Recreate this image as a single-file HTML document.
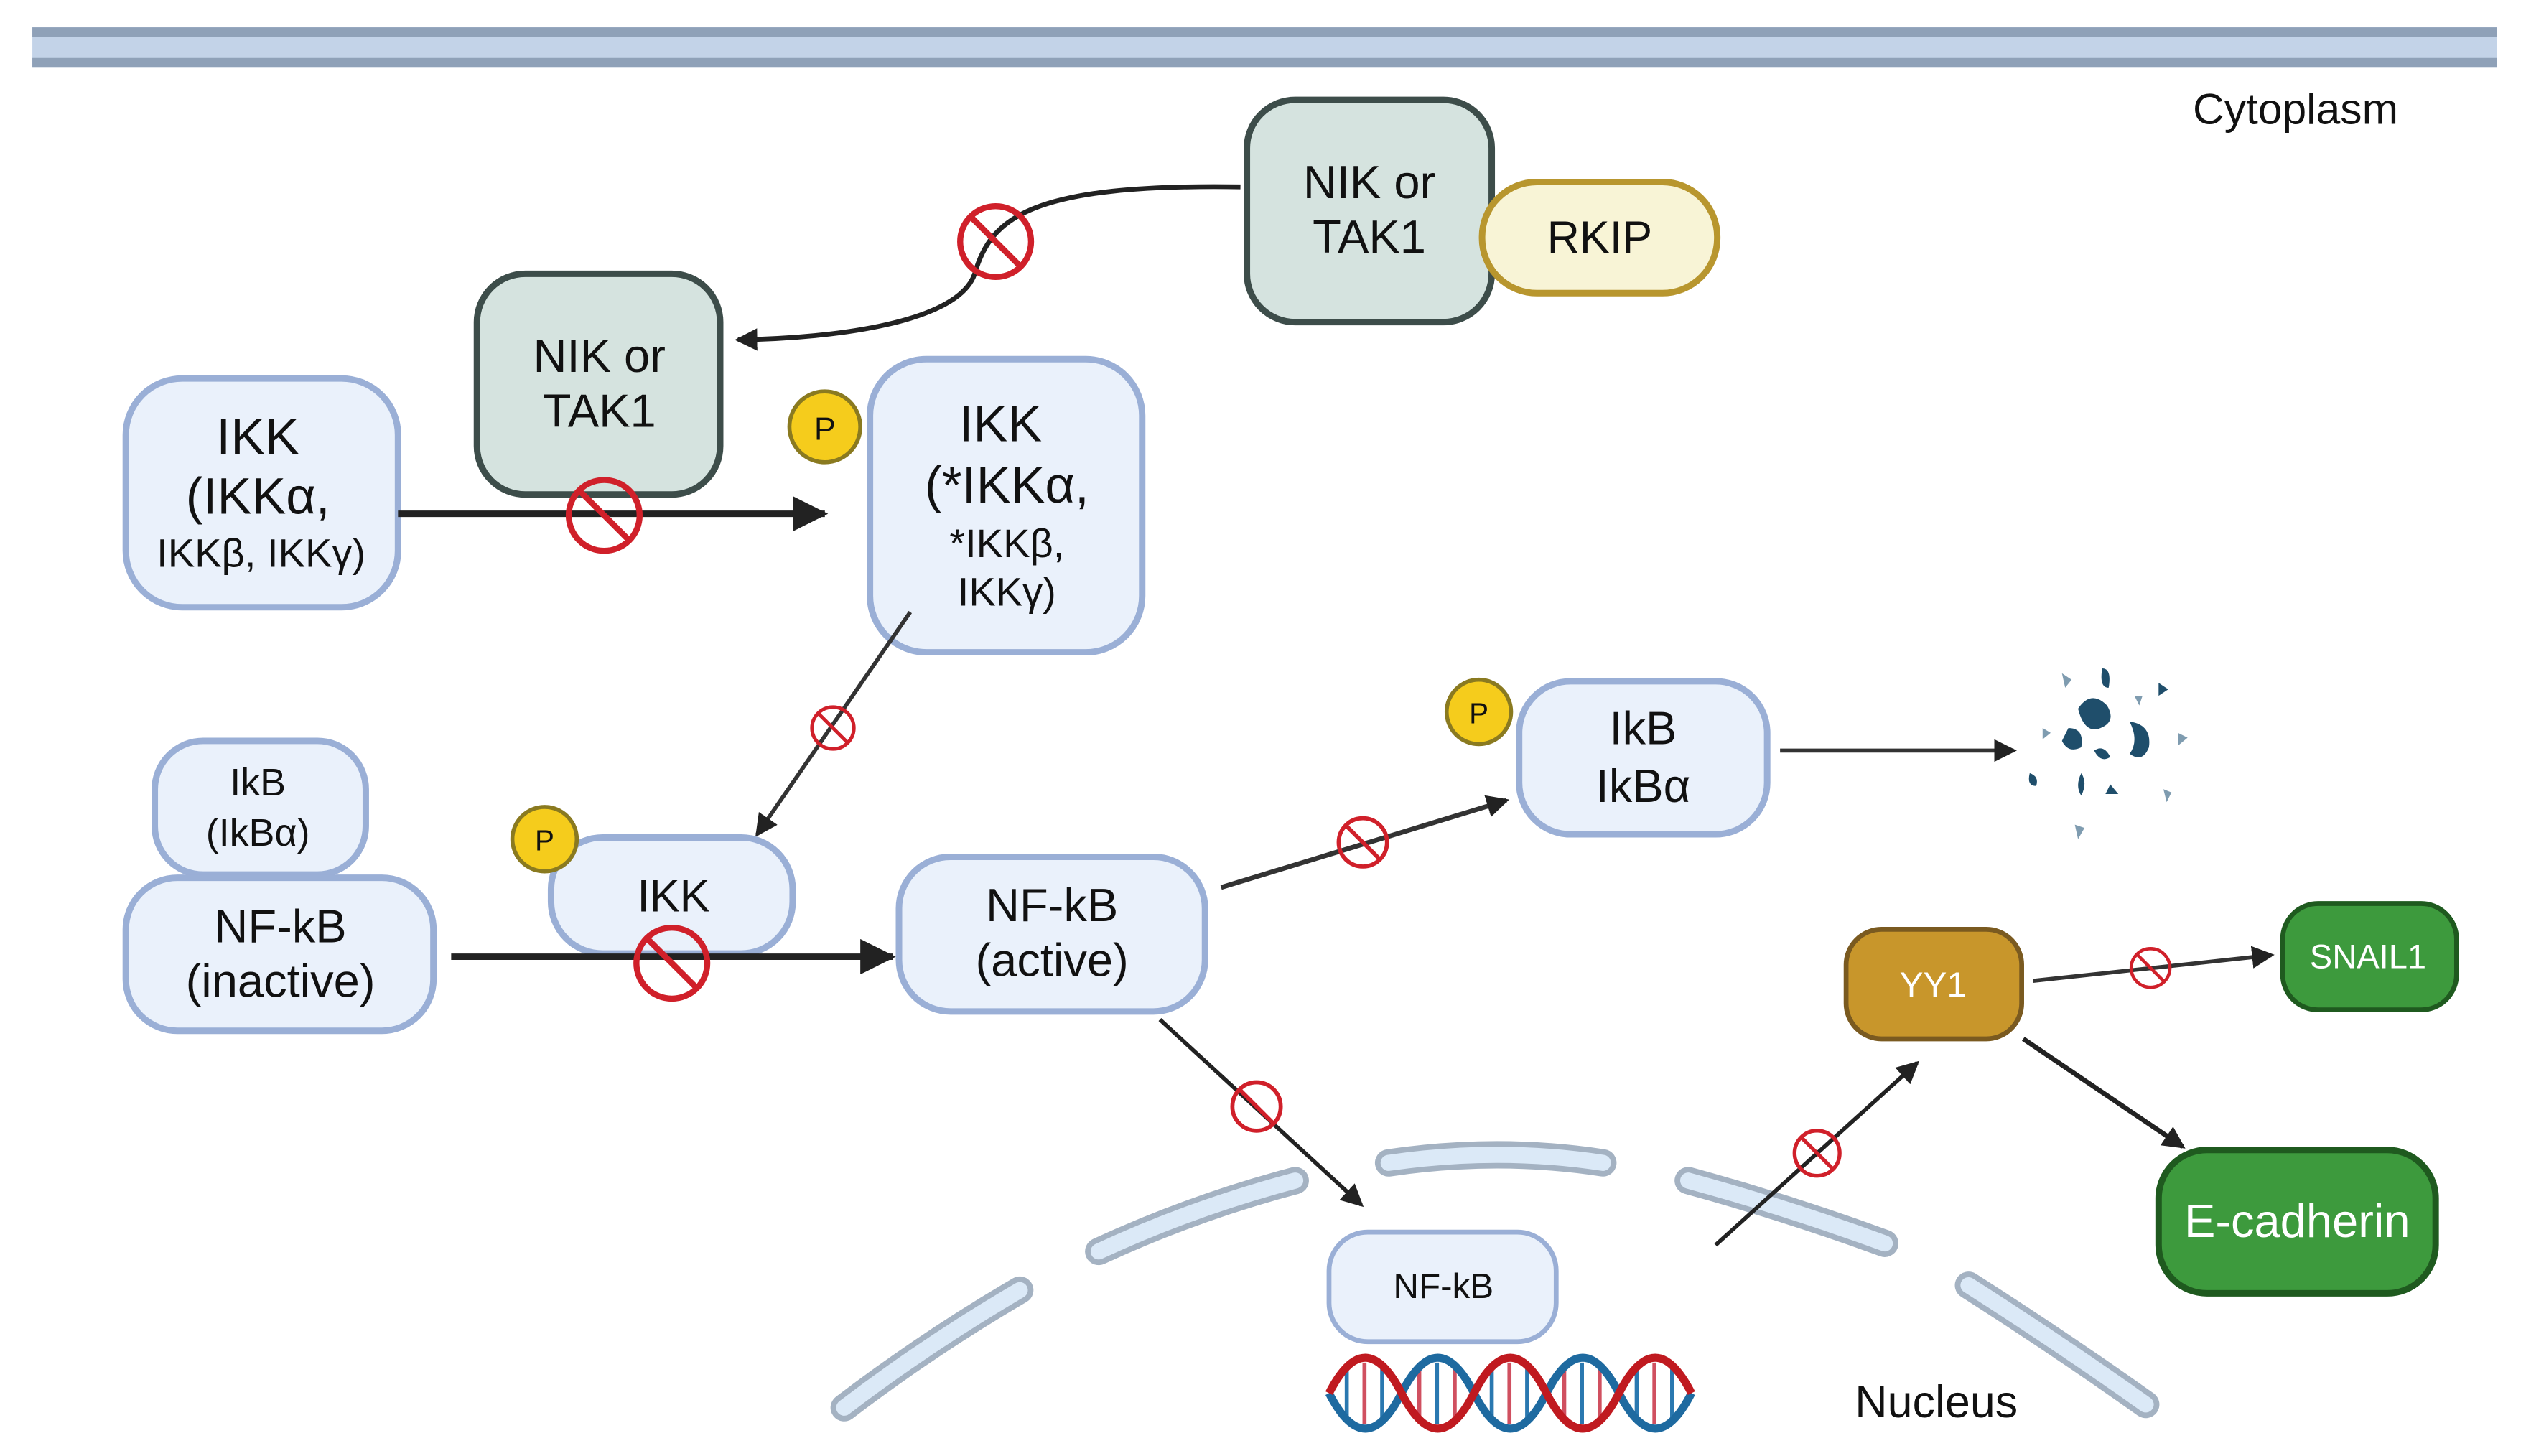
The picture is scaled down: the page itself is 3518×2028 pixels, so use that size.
<!DOCTYPE html>
<html><head><meta charset="utf-8"><style>
html,body{margin:0;padding:0;background:#fff;}
svg{display:block;}
text{font-family:"Liberation Sans Narrow","Liberation Sans",sans-serif;fill:#111;text-anchor:middle;}
</style></head><body>
<svg width="3518" height="2028" viewBox="0 0 1568 904" xmlns="http://www.w3.org/2000/svg">
<defs>
<marker id="ahb" markerWidth="22" markerHeight="22" refX="20" refY="11" orient="auto" markerUnits="userSpaceOnUse" viewBox="0 0 22 22"><path d="M0,0 L22,11 L0,22 z" fill="#222"/></marker>
<marker id="ahs" markerWidth="14" markerHeight="14" refX="12" refY="7" orient="auto" markerUnits="userSpaceOnUse" viewBox="0 0 14 14"><path d="M0,0 L14,7 L0,14 z" fill="#222"/></marker>
<g id="inh"><circle cx="0" cy="0" r="1" fill="none" stroke="#d0202a" stroke-width="0.17"/><line x1="-0.7" y1="-0.7" x2="0.7" y2="0.7" stroke="#d0202a" stroke-width="0.17"/></g>
</defs>
<rect x="20" y="17" width="1530" height="25" fill="#c3d3e8"/>
<rect x="20" y="17" width="1530" height="6" fill="#8fa1b8"/>
<rect x="20" y="36" width="1530" height="6" fill="#8fa1b8"/>
<text x="1425" y="77" font-size="27" style="font-family:'Liberation Sans',sans-serif">Cytoplasm</text>

<path d="M770,116 C640,114 615,135 605,170 C595,200 520,210 458,211" fill="none" stroke="#222" stroke-width="3" marker-end="url(#ahs)"/>
<use href="#inh" transform="translate(618,150) scale(22)"/>

<rect x="774" y="62" width="152" height="138" rx="30" fill="#d5e3df" stroke="#3d4d4a" stroke-width="4"/>
<text x="850" y="123" font-size="29">NIK or</text>
<text x="850" y="157" font-size="29">TAK1</text>
<rect x="920" y="113" width="146" height="69" rx="34" fill="#f8f4d6" stroke="#b8962e" stroke-width="4"/>
<text x="993" y="157" font-size="28">RKIP</text>

<rect x="296" y="170" width="151" height="137" rx="30" fill="#d5e3df" stroke="#3d4d4a" stroke-width="4"/>
<text x="372" y="231" font-size="29">NIK or</text>
<text x="372" y="265" font-size="29">TAK1</text>

<rect x="78" y="235" width="169" height="142" rx="35" fill="#eaf1fb" stroke="#9aafd6" stroke-width="4"/>
<text x="160" y="282" font-size="32">IKK</text>
<text x="160" y="319" font-size="32">(IKKα,</text>
<text x="162" y="352" font-size="25">IKKβ, IKKγ)</text>

<line x1="247" y1="319" x2="512" y2="319" stroke="#222" stroke-width="4" marker-end="url(#ahb)"/>
<use href="#inh" transform="translate(375,320) scale(22)"/>

<circle cx="512" cy="265" r="22" fill="#f5cc1c" stroke="#8a7a20" stroke-width="2.5"/>
<text x="512" y="273" font-size="20">P</text>
<rect x="540" y="223" width="169" height="182" rx="35" fill="#eaf1fb" stroke="#9aafd6" stroke-width="4"/>
<text x="621" y="274" font-size="32">IKK</text>
<text x="625" y="312" font-size="32">(*IKKα,</text>
<text x="625" y="346" font-size="25">*IKKβ,</text>
<text x="625" y="376" font-size="25">IKKγ)</text>

<line x1="565" y1="380" x2="470" y2="518" stroke="#333" stroke-width="2.5" marker-end="url(#ahs)"/>
<use href="#inh" transform="translate(517,452) scale(13)"/>

<rect x="96" y="460" width="131" height="83" rx="30" fill="#eaf1fb" stroke="#9aafd6" stroke-width="4"/>
<text x="160" y="494" font-size="24">IkB</text>
<text x="160" y="525" font-size="24">(IkBα)</text>
<rect x="78" y="545" width="191" height="95" rx="32" fill="#eaf1fb" stroke="#9aafd6" stroke-width="4"/>
<text x="174" y="585" font-size="29">NF-kB</text>
<text x="174" y="619" font-size="29">(inactive)</text>

<rect x="342" y="520" width="150" height="72" rx="32" fill="#eaf1fb" stroke="#9aafd6" stroke-width="4"/>
<text x="418" y="566" font-size="28">IKK</text>
<circle cx="338" cy="521" r="20" fill="#f5cc1c" stroke="#8a7a20" stroke-width="2.5"/>
<text x="338" y="528" font-size="18">P</text>

<line x1="280" y1="594" x2="554" y2="594" stroke="#222" stroke-width="4" marker-end="url(#ahb)"/>
<use href="#inh" transform="translate(417,598) scale(22)"/>

<rect x="558" y="532" width="190" height="96" rx="32" fill="#eaf1fb" stroke="#9aafd6" stroke-width="4"/>
<text x="653" y="572" font-size="29">NF-kB</text>
<text x="653" y="606" font-size="29">(active)</text>

<line x1="758" y1="551" x2="935" y2="497" stroke="#333" stroke-width="3" marker-end="url(#ahs)"/>
<use href="#inh" transform="translate(846,523) scale(15)"/>

<circle cx="918" cy="442" r="20" fill="#f5cc1c" stroke="#8a7a20" stroke-width="2.5"/>
<text x="918" y="449" font-size="18">P</text>
<rect x="943" y="423" width="154" height="95" rx="32" fill="#eaf1fb" stroke="#9aafd6" stroke-width="4"/>
<text x="1020" y="462" font-size="29">IkB</text>
<text x="1020" y="498" font-size="29">IkBα</text>
<line x1="1105" y1="466" x2="1250" y2="466" stroke="#333" stroke-width="2.5" marker-end="url(#ahs)"/>

<g fill="#1f4e6b">
<path d="M1290,440 q8,-12 18,-2 q6,10 -4,14 q-10,4 -14,-12z"/>
<path d="M1322,448 q14,2 12,16 q-4,10 -12,4 q6,-8 0,-20z"/>
<path d="M1284,452 q10,0 8,12 q-8,4 -12,-4z"/>
<path d="M1305,415 q6,0 4,12 q-6,0 -4,-12z"/>
<path d="M1340,424 l6,4 l-6,4z"/>
<path d="M1300,466 q6,-4 10,4 q-6,4 -10,-4z"/>
<path d="M1292,480 q4,6 0,14 q-4,-6 0,-14z"/>
<path d="M1260,480 q6,2 4,8 q-6,0 -4,-8z"/>
<path d="M1310,487 l5,6 l-8,0z"/>
</g>
<g fill="#7f9cb0">
<path d="M1280,418 l6,4 l-4,5z"/>
<path d="M1268,452 l5,3 l-5,4z"/>
<path d="M1352,455 l6,3 l-6,5z"/>
<path d="M1343,490 l5,2 l-3,6z"/>
<path d="M1288,512 l6,2 l-4,7z"/>
<path d="M1325,432 l5,0 l-2,6z"/>
</g>

<rect x="1146" y="577" width="109" height="68" rx="22" fill="#c8962b" stroke="#7a5a20" stroke-width="3"/>
<text x="1200" y="619" font-size="22" style="fill:#fff">YY1</text>
<rect x="1417" y="561" width="108" height="66" rx="22" fill="#3d9a3d" stroke="#1f5a1f" stroke-width="3"/>
<text x="1470" y="601" font-size="21" style="fill:#fff">SNAIL1</text>
<line x1="1262" y1="609" x2="1410" y2="593" stroke="#333" stroke-width="2.5" marker-end="url(#ahs)"/>
<use href="#inh" transform="translate(1335,601) scale(12)"/>
<line x1="1256" y1="645" x2="1355" y2="712" stroke="#222" stroke-width="3" marker-end="url(#ahs)"/>
<rect x="1340" y="714" width="172" height="89" rx="30" fill="#3d9a3d" stroke="#1f5a1f" stroke-width="4"/>
<text x="1426" y="768" font-size="29" style="fill:#fff">E-cadherin</text>

<g fill="none" stroke-linecap="round">
<g stroke="#a4b2c2" stroke-width="17">
<path d="M524,874 Q575,835 633,801"/>
<path d="M682,777 Q740,750 804,733"/>
<path d="M862,722 Q930,712 995,722"/>
<path d="M1048,733 Q1110,750 1170,772"/>
<path d="M1222,798 Q1280,835 1332,872"/>
</g>
<g stroke="#dbe9f7" stroke-width="10">
<path d="M524,874 Q575,835 633,801"/>
<path d="M682,777 Q740,750 804,733"/>
<path d="M862,722 Q930,712 995,722"/>
<path d="M1048,733 Q1110,750 1170,772"/>
<path d="M1222,798 Q1280,835 1332,872"/>
</g>
</g>

<line x1="720" y1="633" x2="845" y2="748" stroke="#222" stroke-width="2.5" marker-end="url(#ahs)"/>
<use href="#inh" transform="translate(780,687) scale(15)"/>
<line x1="1065" y1="773" x2="1190" y2="660" stroke="#222" stroke-width="2.5" marker-end="url(#ahs)"/>
<use href="#inh" transform="translate(1128,716) scale(14)"/>

<rect x="825" y="765" width="141" height="68" rx="24" fill="#eaf1fb" stroke="#9aafd6" stroke-width="3"/>
<text x="896" y="806" font-size="22">NF-kB</text>

<g stroke-width="2.5">
<line x1="836" y1="850" x2="836" y2="880" stroke="#2a78b0"/>
<line x1="847" y1="846" x2="847" y2="884" stroke="#d05060"/>
<line x1="858" y1="850" x2="858" y2="880" stroke="#2a78b0"/>
<line x1="881" y1="850" x2="881" y2="880" stroke="#d05060"/>
<line x1="892" y1="846" x2="892" y2="884" stroke="#2a78b0"/>
<line x1="903" y1="850" x2="903" y2="880" stroke="#d05060"/>
<line x1="926" y1="850" x2="926" y2="880" stroke="#2a78b0"/>
<line x1="937" y1="846" x2="937" y2="884" stroke="#d05060"/>
<line x1="948" y1="850" x2="948" y2="880" stroke="#2a78b0"/>
<line x1="971" y1="850" x2="971" y2="880" stroke="#d05060"/>
<line x1="982" y1="846" x2="982" y2="884" stroke="#2a78b0"/>
<line x1="993" y1="850" x2="993" y2="880" stroke="#d05060"/>
<line x1="1016" y1="850" x2="1016" y2="880" stroke="#2a78b0"/>
<line x1="1027" y1="846" x2="1027" y2="884" stroke="#d05060"/>
<line x1="1038" y1="850" x2="1038" y2="880" stroke="#2a78b0"/>
</g>
<path d="M825,865 Q847.5,909 870,865 T915,865 T960,865 T1005,865 T1050,865" fill="none" stroke="#1e6aa0" stroke-width="5"/>
<path d="M825,865 Q847.5,821 870,865 T915,865 T960,865 T1005,865 T1050,865" fill="none" stroke="#c01a20" stroke-width="5"/>

<text x="1202" y="880" font-size="28">Nucleus</text>
</svg>
</body></html>
